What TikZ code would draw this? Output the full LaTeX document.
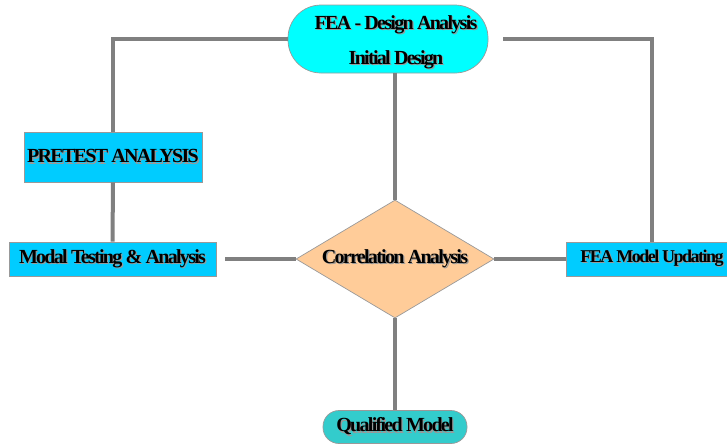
\documentclass[tikz,border=0pt]{standalone}
\usepackage{fontspec}
\setmainfont{Liberation Serif}[LetterSpace=-8.5]
\usepackage{tikz}
\usetikzlibrary{positioning,shapes.geometric,calc}
\definecolor{aqua}{RGB}{0,255,255}
\definecolor{skyblue}{RGB}{0,204,255}
\definecolor{peach}{RGB}{255,204,153}
\definecolor{tealish}{RGB}{51,204,204}
\definecolor{linkgray}{RGB}{128,128,128}
% text with a soft drop shadow
\newcommand{\shadowed}[1]{\makebox[0pt][l]{\hspace{1.2pt}\raisebox{-1.2pt}{\textcolor{black!40}{#1}}}#1}

\begin{document}
\begin{tikzpicture}[x=1pt, y=-1pt,
    every node/.style={draw=linkgray!80, line width=0.7pt, font=\fontsize{20}{22}\selectfont\bfseries, align=center, inner sep=0pt},
    boxnode/.style={rectangle, fill=skyblue},
    pill/.style={rectangle, rounded corners=#1},
    link/.style={draw=linkgray, line width=4pt}
]
    \useasboundingbox (0,0) rectangle (727,445);
    % nodes
    \node [pill=33pt, fill=aqua, minimum width=200pt, minimum height=68pt] (design) at (388,39)
        {\rule{0pt}{21pt}\hspace*{16pt}\shadowed{FEA - Design Analysis}\\[13pt]\hspace*{16pt}\shadowed{Initial Design}};
    \node [boxnode, minimum width=178pt, minimum height=50pt] (pretest) at (113,157) {\shadowed{PRETEST ANALYSIS}};
    \node [boxnode, minimum width=207pt, minimum height=34pt] (testing) at (112.5,259) {\shadowed{Modal Testing \& Analysis}};
    \node [diamond, aspect=1.68, fill=peach, minimum width=198pt, minimum height=118pt] (corr) at (395,259) {\shadowed{Correlation Analysis}};
    \node [boxnode, minimum width=172pt, minimum height=34pt, inner xsep=8pt, font=\fontsize{18}{22}\selectfont\bfseries] (update) at (652,259) {\shadowed{FEA Model Updating}};
    \node [pill=16pt, fill=tealish, minimum width=144pt, minimum height=33pt] (qualified) at (395,427) {\shadowed{Qualified Model}};
    % connectors
    \draw [link] (design.west) -| (pretest.north);
    \draw [link] (pretest.south) -- (testing.north);
    \draw [link, shorten <=15pt] (design.east) -| (update.north);
    \draw [link] (design.south -| corr.north) -- (corr.north);
    \draw [link, shorten <=9pt] (testing.east) -- (corr.west);
    \draw [link] (corr.east) -- (update.west);
    \draw [link] (corr.south) -- (qualified.north);
\end{tikzpicture}
\end{document}
